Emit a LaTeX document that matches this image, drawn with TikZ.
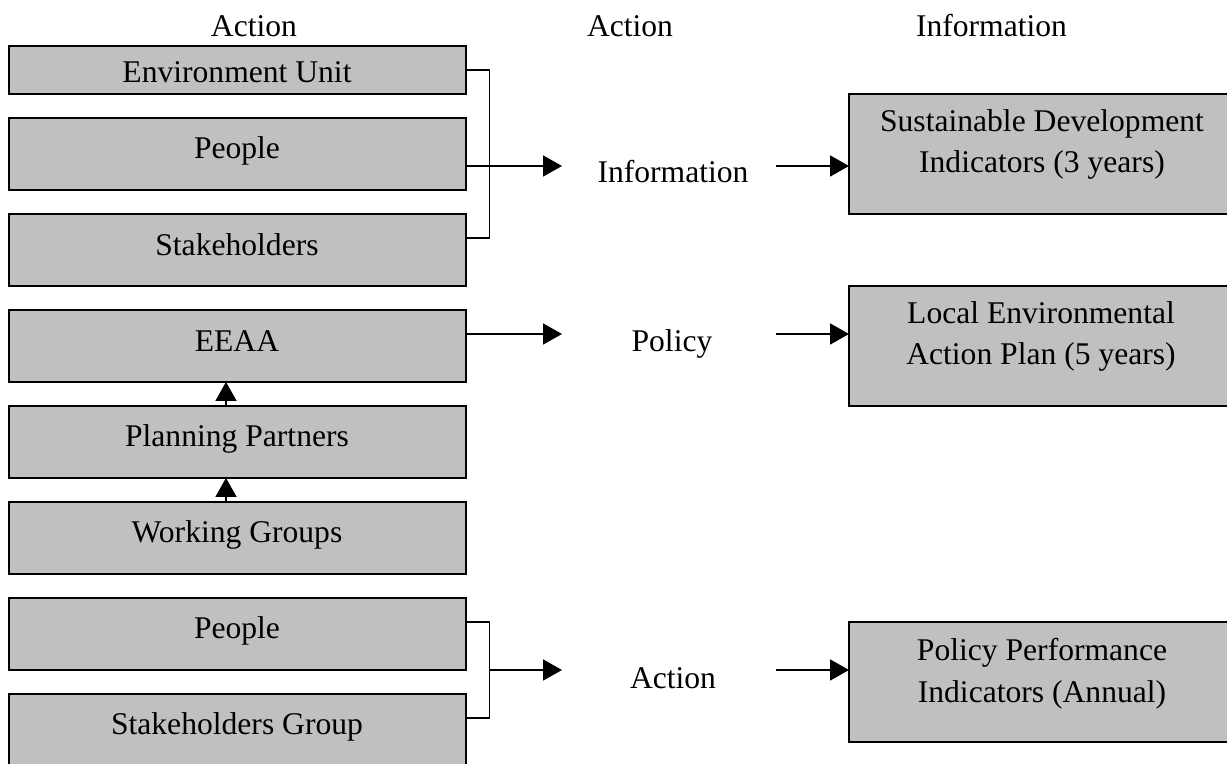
\documentclass[tikz,border=0pt]{standalone}
\usepackage{fontspec}
\setmainfont{Liberation Serif}
\usetikzlibrary{arrows.meta}
\definecolor{boxgray}{RGB}{192,192,192}
\begin{document}
\begin{tikzpicture}[x=0.5pt,y=-0.5pt,
  box/.style={draw=black, line width=1pt, fill=boxgray, rectangle, inner sep=0pt, outer sep=0pt, minimum width=228.5pt, minimum height=36pt},
  rbox/.style={box, minimum width=193pt, minimum height=60pt},
  txt/.style={anchor=base, inner sep=0pt, font=\fontsize{15.8pt}{20.75pt}\selectfont},
  rtxt/.style={txt, align=center},
  conn/.style={line width=0.9pt},
  arr/.style={conn, -{Triangle[length=9.5pt,width=10.5pt]}}
]
\useasboundingbox (0,0) rectangle (1227,764);

% headers
\node[txt] (h1) at (254,37) {Action};
\node[txt] (h2) at (630,37) {Action};
\node[txt] (h3) at (991.5,37) {Information};

% left boxes
\node[box, minimum height=24pt] (envu) at (237,70) {};
\node[box] (people1) at (237,154) {};
\node[box] (stake1) at (237,250) {};
\node[box] (eeaa) at (237,346) {};
\node[box] (plan) at (237,442) {};
\node[box] (work) at (237,538) {};
\node[box] (people2) at (237,634) {};
\node[box] (stake2) at (237,730) {};

\node[txt] (tenvu) at (237,83) {Environment Unit};
\node[txt] (tpeople1) at (237,159) {People};
\node[txt] (tstake1) at (237,256) {Stakeholders};
\node[txt] (teeaa) at (237,351.5) {EEAA};
\node[txt] (tplan) at (237,447) {Planning Partners};
\node[txt] (twork) at (237,543) {Working Groups};
\node[txt] (tpeople2) at (237,639) {People};
\node[txt] (tstake2) at (237,734) {Stakeholders Group};

% middle labels
\node[txt] (linfo) at (673,183) {Information};
\node[txt] (lpolicy) at (672,352) {Policy};
\node[txt] (laction) at (673,688) {Action};

% right boxes
\node[rbox] (sdi) at (1042,154) {};
\node[rbox] (leap) at (1042,346) {};
\node[rbox] (ppi) at (1042,682) {};
\node[rtxt] (tsdi) at (1042,173) {Sustainable Development\\Indicators (3 years)};
\node[rtxt] (tleap) at (1041,365) {Local Environmental\\Action Plan (5 years)};
\node[rtxt] (tppi) at (1042,702) {Policy Performance\\Indicators (Annual)};

% coordinates for free ends
\coordinate (a1) at (562,166);
\coordinate (a2) at (562,334);
\coordinate (a3) at (562,670);
\coordinate (j2) at (490,670);
\coordinate (s1) at (776,166);
\coordinate (s2) at (776,334);
\coordinate (s3) at (776,670);

% bracket 1
\draw[conn] (envu.east) -- ++(24,0) |- ([yshift=6pt]stake1.east);
\draw[arr] ([yshift=-6pt]people1.east) -- (a1);
% EEAA
\draw[arr] ([yshift=6pt]eeaa.east) -- (a2);
% bracket 2
\draw[conn] ([yshift=6pt]people2.east) -- ++(24,0) |- ([yshift=6pt]stake2.east);
\draw[arr] (j2) -- (a3);

% right arrows
\draw[arr] (s1) -- ([yshift=-6pt]sdi.west);
\draw[arr] (s2) -- ([yshift=6pt]leap.west);
\draw[arr] (s3) -- ([yshift=6pt]ppi.west);

% up arrows
\draw[arr] ([xshift=-5.5pt]plan.north) -- ([xshift=-5.5pt]eeaa.south);
\draw[arr] ([xshift=-5.5pt]work.north) -- ([xshift=-5.5pt]plan.south);
\end{tikzpicture}
\end{document}
